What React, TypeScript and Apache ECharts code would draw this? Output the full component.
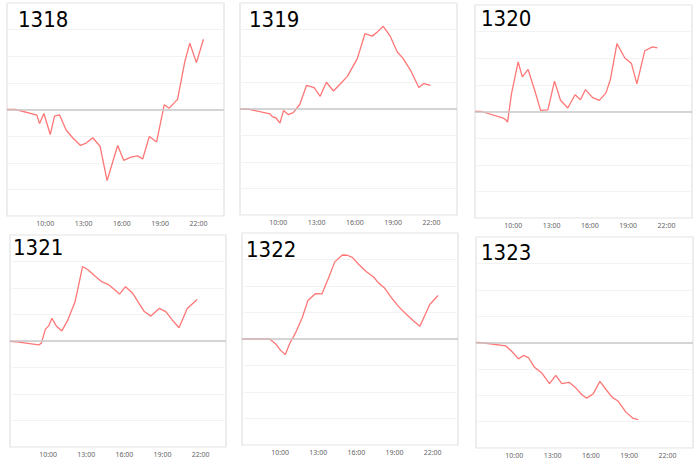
import React, { useEffect, useRef } from "react";
import * as echarts from "echarts";

// panel names
const names = ["1318", "1319", "1320", "1321", "1322", "1323"];

// hours (clock time) and values per panel
const t1318 = [7.0, 7.68, 9.34, 9.55, 9.89, 10.39, 10.72, 11.11, 11.64, 12.16, 12.76, 13.2, 13.72, 14.29, 14.84, 15.67, 16.14, 16.71, 17.23, 17.63, 18.15, 18.72, 19.32, 19.71, 20.36, 20.93, 21.32, 21.84, 22.39];
const v1318 = [0, 0, -0.21, -0.53, -0.15, -0.94, -0.25, -0.2, -0.78, -1.07, -1.35, -1.26, -1.06, -1.38, -2.67, -1.35, -1.91, -1.79, -1.74, -1.86, -1.01, -1.22, 0.18, 0.05, 0.38, 1.8, 2.49, 1.76, 2.64];

const t1319 = [7.0, 7.73, 9.34, 9.55, 9.81, 10.13, 10.41, 10.78, 11.17, 11.69, 12.21, 12.81, 13.28, 13.77, 14.32, 14.89, 15.41, 16.19, 16.79, 17.36, 17.76, 18.22, 18.74, 19.32, 19.76, 20.36, 21.01, 21.4, 21.92];
const v1319 = [0, -0.01, -0.18, -0.3, -0.33, -0.53, -0.06, -0.21, -0.14, 0.18, 0.89, 0.81, 0.48, 1.01, 0.68, 0.96, 1.23, 1.9, 2.84, 2.75, 2.91, 3.12, 2.77, 2.15, 1.92, 1.46, 0.81, 0.96, 0.89];

const t1320 = [7.0, 7.52, 9.21, 9.39, 9.55, 9.86, 10.38, 10.71, 11.16, 11.68, 12.14, 12.71, 13.23, 13.7, 14.27, 14.84, 15.26, 15.65, 16.22, 16.74, 17.26, 17.6, 18.12, 18.74, 19.26, 19.68, 20.3, 20.9, 21.29];
const v1320 = [0, 0, -0.25, -0.3, -0.4, 0.67, 1.86, 1.3, 1.58, 0.79, 0.04, 0.06, 1.14, 0.42, 0.13, 0.63, 0.44, 0.82, 0.52, 0.42, 0.7, 1.19, 2.55, 2.01, 1.8, 1.04, 2.28, 2.43, 2.39];

const t1321 = [7.0, 7.7, 9.26, 9.47, 9.78, 10.04, 10.3, 10.64, 11.08, 11.55, 12.12, 12.71, 13.16, 13.68, 14.25, 14.71, 15.1, 15.62, 16.09, 16.66, 17.18, 17.57, 18.09, 18.74, 19.26, 19.78, 20.3, 20.95, 21.73];
const v1321 = [-0.01, -0.04, -0.15, -0.08, 0.44, 0.57, 0.86, 0.57, 0.38, 0.79, 1.48, 2.81, 2.68, 2.45, 2.23, 2.14, 1.99, 1.77, 2.05, 1.8, 1.4, 1.11, 0.94, 1.23, 1.11, 0.79, 0.5, 1.23, 1.57];

const t1322 = [7.0, 9.18, 9.7, 10.04, 10.4, 10.74, 11.21, 11.73, 12.19, 12.77, 13.29, 13.81, 14.3, 14.9, 15.29, 15.68, 16.19, 16.77, 17.36, 17.75, 18.22, 18.74, 19.31, 19.83, 20.48, 21.0, 21.78, 22.43];
const v1322 = [0, 0, -0.21, -0.43, -0.59, -0.19, 0.23, 0.79, 1.45, 1.71, 1.7, 2.3, 2.91, 3.17, 3.16, 3.08, 2.81, 2.55, 2.34, 2.11, 1.92, 1.57, 1.23, 0.98, 0.69, 0.48, 1.3, 1.64];

const t1323 = [7.0, 7.47, 9.34, 9.81, 10.33, 10.72, 11.11, 11.58, 12.16, 12.76, 13.25, 13.72, 14.29, 14.81, 15.28, 15.67, 16.19, 16.71, 17.23, 17.68, 18.15, 18.74, 19.32, 19.71];
const v1323 = [0, -0.01, -0.13, -0.34, -0.62, -0.49, -0.57, -0.94, -1.16, -1.56, -1.25, -1.56, -1.51, -1.72, -1.97, -2.11, -1.94, -1.47, -1.81, -2.08, -2.23, -2.64, -2.88, -2.92];

const times = [t1318, t1319, t1320, t1321, t1322, t1323];
const values = [v1318, v1319, v1320, v1321, v1322, v1323];

// axis settings
const startHour = 7;
const endHour = 24;
const hourStep = 3;
const yMin = -4;
const yMax = 4;

// panel layout (px)
const panels = [
  { left: 7, top: 3, width: 217, height: 213, tx: 18, ty: 8 },
  { left: 240, top: 3, width: 217, height: 212, tx: 249, ty: 8 },
  { left: 475, top: 5, width: 217, height: 213, tx: 481, ty: 7 },
  { left: 10, top: 235, width: 216, height: 212, tx: 13, ty: 236 },
  { left: 242, top: 233, width: 216, height: 212, tx: 246, ty: 238 },
  { left: 476, top: 237, width: 217, height: 211, tx: 481, ty: 241 },
];

export default function App() {
  const ref = useRef<HTMLDivElement>(null);
  useEffect(() => {
    if (!ref.current) return;
    const chart = echarts.init(ref.current, undefined, { renderer: "svg" });
    const option: any = {
      animation: false,
      backgroundColor: "#ffffff",
      title: panels.map((p, i) => ({
        text: names[i],
        left: p.tx,
        top: p.ty,
        padding: 0,
        textStyle: {
          fontFamily: "'DejaVu Sans Condensed', 'DejaVu Sans', sans-serif",
          fontSize: 22,
          fontWeight: "normal",
          color: "#000000",
        },
      })),
      grid: panels.map((p) => ({
        left: p.left,
        top: p.top,
        width: p.width,
        height: p.height,
        show: true,
        borderColor: "#e2e2e2",
        borderWidth: 1.2,
        backgroundColor: "#ffffff",
        containLabel: false,
      })),
      xAxis: panels.map((_, i) => ({
        type: "value",
        gridIndex: i,
        min: 0,
        max: endHour - startHour,
        interval: hourStep,
        axisLine: { show: false },
        axisTick: { show: false },
        splitLine: { show: false },
        axisLabel: {
          fontSize: 7,
          color: "#666666",
          margin: 4,
          fontFamily: "'Noto Sans', sans-serif",
          showMinLabel: false,
          showMaxLabel: false,
          formatter: (v: number) =>
            v > 0 && v % hourStep === 0 && v < endHour - startHour
              ? `${v + startHour}:00`
              : "",
        },
      })),
      yAxis: panels.map((_, i) => ({
        type: "value",
        gridIndex: i,
        min: yMin,
        max: yMax,
        interval: 1,
        axisLine: { show: false },
        axisTick: { show: false },
        axisLabel: { show: false },
        splitLine: { show: true, lineStyle: { color: "#f2f2f2", width: 1 } },
      })),
      series: panels.map((_, i) => ({
        type: "line",
        xAxisIndex: i,
        yAxisIndex: i,
        symbol: "none",
        smooth: false,
        data: times[i].map((t, k) => [t - startHour, values[i][k]]),
        lineStyle: { color: "#ff7676", width: 1.3 },
        markLine: {
          silent: true,
          symbol: "none",
          label: { show: false },
          lineStyle: { color: "#c8c8c8", width: 1.5, type: "solid" },
          data: [{ yAxis: 0 }],
        },
      })),
    };
    chart.setOption(option);
    return () => chart.dispose();
  }, []);
  return (
    <div
      ref={ref}
      style={{ position: "absolute", left: 0, top: 0, width: 700, height: 461 }}
    />
  );
}
